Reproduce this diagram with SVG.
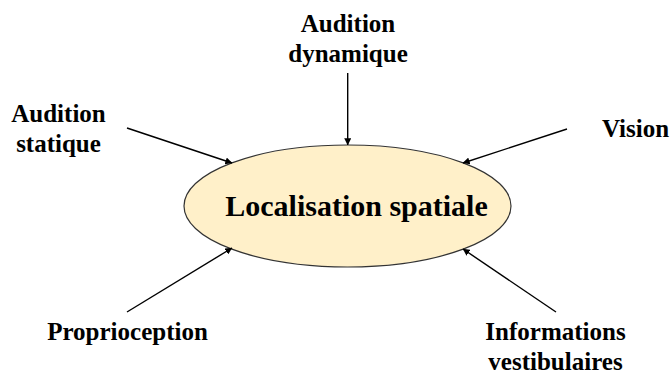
<svg xmlns="http://www.w3.org/2000/svg" width="672" height="376" viewBox="0 0 672 376">
<defs>
<marker id="ah" viewBox="0 0 10 10" refX="9.5" refY="5" markerWidth="7" markerHeight="7" markerUnits="userSpaceOnUse" orient="auto">
<path d="M0,0 L10,5 L0,10 z" fill="#000"/>
</marker>
</defs>
<style>
.t{font-family:'Liberation Serif',Tinos,'DejaVu Serif',serif;font-weight:700;fill:#000;text-anchor:middle}
.lbl{font-size:25px}
.main{font-size:30px}
.conn line{stroke:#000;stroke-width:1.4;marker-end:url(#ah)}
</style>
<rect width="672" height="376" fill="#fff"/>
<g id="center">
<ellipse cx="347.5" cy="206" rx="163.5" ry="61" fill="#FFF0C9" stroke="#333" stroke-width="1.2"/>
<text class="t main" font-family="Liberation Serif, serif" x="356.5" y="216">Localisation spatiale</text>
</g>
<g id="audition-dynamique">
<text class="t lbl" font-family="Liberation Serif, serif" x="348" y="32">Audition</text>
<text class="t lbl" font-family="Liberation Serif, serif" x="348" y="62">dynamique</text>
</g>
<g id="audition-statique">
<text class="t lbl" font-family="Liberation Serif, serif" x="58.5" y="122">Audition</text>
<text class="t lbl" font-family="Liberation Serif, serif" x="58.5" y="152">statique</text>
</g>
<g id="vision">
<text class="t lbl" font-family="Liberation Serif, serif" x="635.5" y="137">Vision</text>
</g>
<g id="proprioception">
<text class="t lbl" font-family="Liberation Serif, serif" x="127.5" y="340">Proprioception</text>
</g>
<g id="informations-vestibulaires">
<text class="t lbl" font-family="Liberation Serif, serif" x="555.5" y="340">Informations</text>
<text class="t lbl" font-family="Liberation Serif, serif" x="555.5" y="370">vestibulaires</text>
</g>
<g class="conn" id="connectors">
<line x1="347.7" y1="73" x2="347.7" y2="145"/>
<line x1="127" y1="128" x2="232" y2="163"/>
<line x1="567" y1="129" x2="463" y2="163"/>
<line x1="127" y1="312" x2="232" y2="248"/>
<line x1="556" y1="312" x2="463" y2="249"/>
</g>
</svg>
